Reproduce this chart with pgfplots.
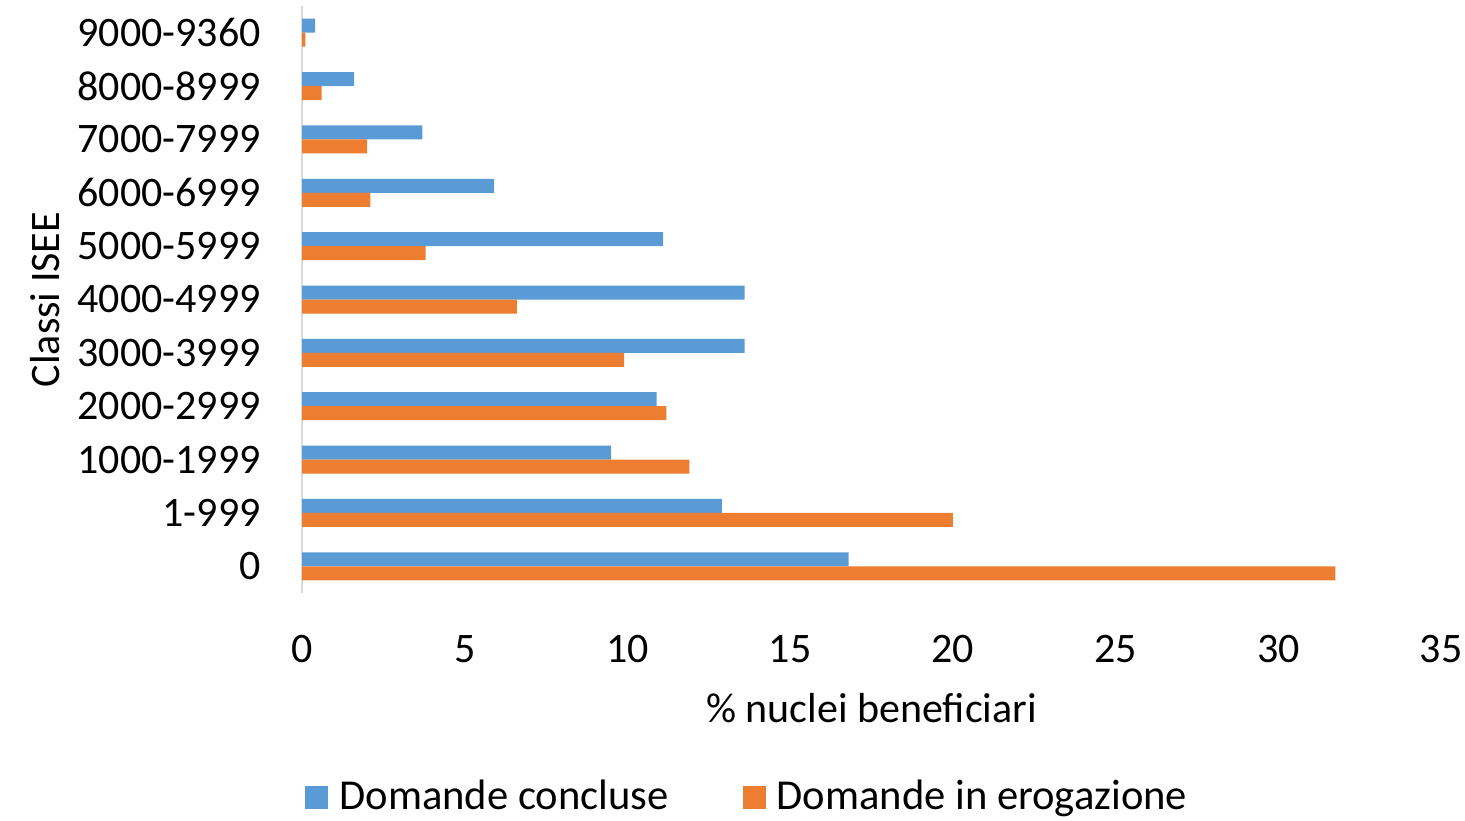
\documentclass[border=0pt]{standalone}
\usepackage{pgfplots}
\pgfplotsset{compat=1.18}
\usepackage{fontspec}
\setmainfont{Carlito}
\definecolor{cblue}{HTML}{5B9BD5}
\definecolor{corange}{HTML}{ED7D31}
\definecolor{axgray}{HTML}{D9D9D9}
\begin{document}
\begin{tikzpicture}
\useasboundingbox (0,0) rectangle (732.5pt,410pt);
\begin{axis}[
  at={(151pt,113.5pt)}, anchor=south west,
  scale only axis, width=569.5pt, height=293.5pt,
  xbar, bar width=7pt,
  xmin=0, xmax=35, ymin=-0.5, ymax=10.5,
  xtick={0,5,...,35},
  ytick={0,...,10},
  yticklabels={0,1-999,1000-1999,2000-2999,3000-3999,4000-4999,5000-5999,6000-6999,7000-7999,8000-8999,9000-9360},
  major tick length=0pt,
  axis lines*=left,
  x axis line style={draw=none},
  y axis line style={draw=axgray, line width=1pt},
  font=\fontsize{21pt}{25pt}\selectfont,
  /pgf/number format/assume math mode=true,
  xticklabel style={anchor=base, yshift=-34.5pt},
  yticklabel style={anchor=east, inner sep=0pt, xshift=-20.5pt},
  xlabel={\% nuclei beneficiari},
  ylabel={Classi ISEE},
  every axis x label/.style={at={(axis description cs:0.5,-0.2198)}, anchor=base},
  every axis y label/.style={at={(axis description cs:-0.2133,0.5)}, rotate=90, anchor=base},
  legend columns=2,
  legend style={draw=none, inner sep=0pt, at={(axis description cs:0.0026,-0.346)}, anchor=west,
    font=\fontsize{21.3pt}{25pt}\selectfont,
    /tikz/every odd column/.append style={column sep=3.5pt},
    /tikz/every even column/.append style={column sep=35pt}},
  legend image code/.code={\fill[#1, draw=none] (0pt,-6.5pt) rectangle (11.5pt,5pt);},
]
\addplot[fill=cblue, draw=none, bar shift=3.5pt] coordinates {
(16.8,0) (12.9,1) (9.5,2) (10.9,3) (13.6,4) (13.6,5) (11.1,6) (5.9,7) (3.7,8) (1.6,9) (0.4,10)};
\addplot[fill=corange, draw=none, bar shift=-3.5pt] coordinates {
(31.75,0) (20.0,1) (11.9,2) (11.2,3) (9.9,4) (6.6,5) (3.8,6) (2.1,7) (2.0,8) (0.6,9) (0.1,10)};
\legend{Domande concluse, Domande in erogazione}
\end{axis}
\end{tikzpicture}
\end{document}
